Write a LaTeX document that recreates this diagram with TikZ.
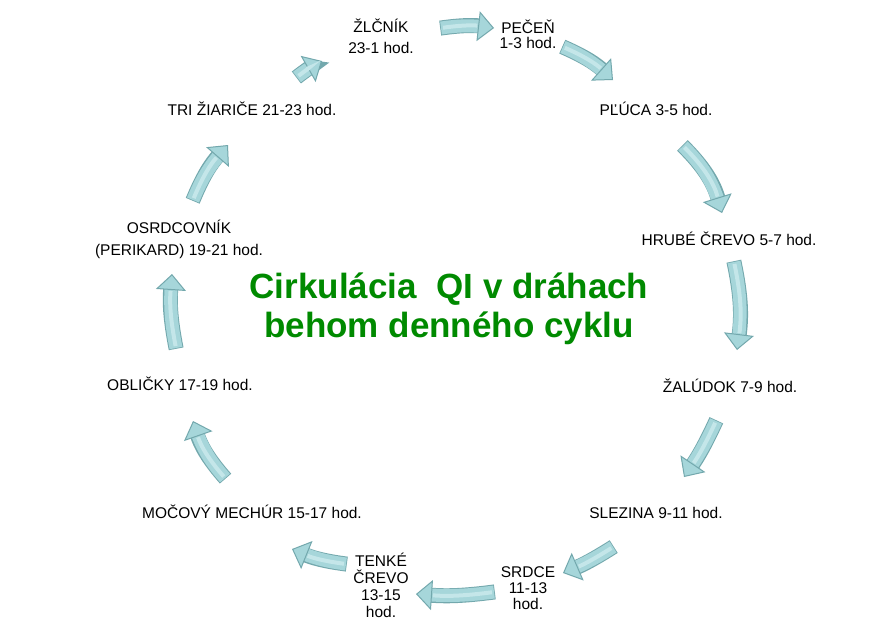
\documentclass[tikz,border=0pt]{standalone}
\usepackage{fontspec}
\setmainfont{Liberation Sans}
\usetikzlibrary{arrows.meta,bending}
\definecolor{arfill}{HTML}{A6D6DA}
\definecolor{aredge}{HTML}{73A8AD}
\definecolor{arlight}{HTML}{C4E6E9}
\definecolor{titlegreen}{HTML}{008A00}
\newcommand\cycarrow[3]{%
  \draw[aredge, line width=15pt, shorten >=14pt, shorten <=-0.8pt] (#1) to[bend left=#3] (#2);
  \draw[arfill, line width=13pt, -{Triangle[width=30pt,length=16pt,flex,color=aredge,fill=arfill,line width=1pt]}] (#1) to[bend left=#3] (#2);
  \draw[arlight, line width=4pt, shorten >=17pt, shorten <=2pt] (#1) to[bend left=#3] (#2);
}
\begin{document}
\begin{tikzpicture}[x=1pt,y=-1pt,
  lbl/.style={font=\fontsize{15.5}{#1}\selectfont, anchor=base, align=center, inner sep=0pt},
  lbl/.default=18,
  titletext/.style={font=\bfseries\fontsize{35}{39}\selectfont, text=titlegreen, anchor=base, align=center, inner sep=0pt}]
\useasboundingbox (0,0) rectangle (877,625);
\fill[white] (0,0) rectangle (877,625);

% anchor=base of a multi-line node is the baseline of its last line
\node[titletext] (title) at (449,337) {Cirkulácia~ QI v dráhach\\behom denného cyklu};

\node[lbl=21] (zlcnik) at (381,53) {ŽLČNÍK\\23-1 hod.};
\node[lbl=14.5] (pecen) at (528,48) {PEČEŇ\\1-3 hod.};
\node[lbl] (pluca) at (656,115) {PĽÚCA 3-5 hod.};
\node[lbl] (hrube) at (729,245) {HRUBÉ ČREVO 5-7 hod.};
\node[lbl] (zaludok) at (730,392) {ŽALÚDOK 7-9 hod.};
\node[lbl] (slezina) at (656,518) {SLEZINA 9-11 hod.};
\node[lbl=16] (srdce) at (528,609) {SRDCE\\11-13\\hod.};
\node[lbl=16.7] (tenke) at (381,617) {TENKÉ\\ČREVO\\13-15\\hod.};
\node[lbl] (mocovy) at (252,518) {MOČOVÝ MECHÚR 15-17 hod.};
\node[lbl] (oblicky) at (180,390) {OBLIČKY 17-19 hod.};
\node[lbl=22] (osrdc) at (179,255) {OSRDCOVNÍK\\(PERIKARD) 19-21 hod.};
\node[lbl] (tri) at (252,115) {TRI ŽIARIČE 21-23 hod.};

\coordinate (a1t) at (441,28);  \coordinate (a1h) at (494,28);
\coordinate (a2t) at (563,47);  \coordinate (a2h) at (613,80);
\coordinate (a3t) at (683,146); \coordinate (a3h) at (722,213);
\coordinate (a4t) at (734,262); \coordinate (a4h) at (737,350);
\coordinate (a5t) at (716,421); \coordinate (a5h) at (684,477);
\coordinate (a6t) at (613,547); \coordinate (a6h) at (563,573);
\coordinate (a7t) at (494,592); \coordinate (a7h) at (416,594);
\coordinate (a8t) at (346,564); \coordinate (a8h) at (292,549);
\coordinate (a9t) at (225,478); \coordinate (a9h) at (193,421);
\coordinate (a10t) at (176,348); \coordinate (a10h) at (172,274);
\coordinate (a11t) at (193,200); \coordinate (a11h) at (228,145);
\coordinate (a12t) at (297,77); \coordinate (a12h) at (322,61);

\cycarrow{a1t}{a1h}{8}
\cycarrow{a2t}{a2h}{10}
\cycarrow{a3t}{a3h}{15}
\cycarrow{a4t}{a4h}{10}
\cycarrow{a5t}{a5h}{5}
\cycarrow{a6t}{a6h}{5}
\cycarrow{a7t}{a7h}{6}
\cycarrow{a8t}{a8h}{8}
\cycarrow{a9t}{a9h}{12}
\cycarrow{a10t}{a10h}{8}
\cycarrow{a11t}{a11h}{10}
\cycarrow{a12t}{a12h}{5}
\end{tikzpicture}
\end{document}
